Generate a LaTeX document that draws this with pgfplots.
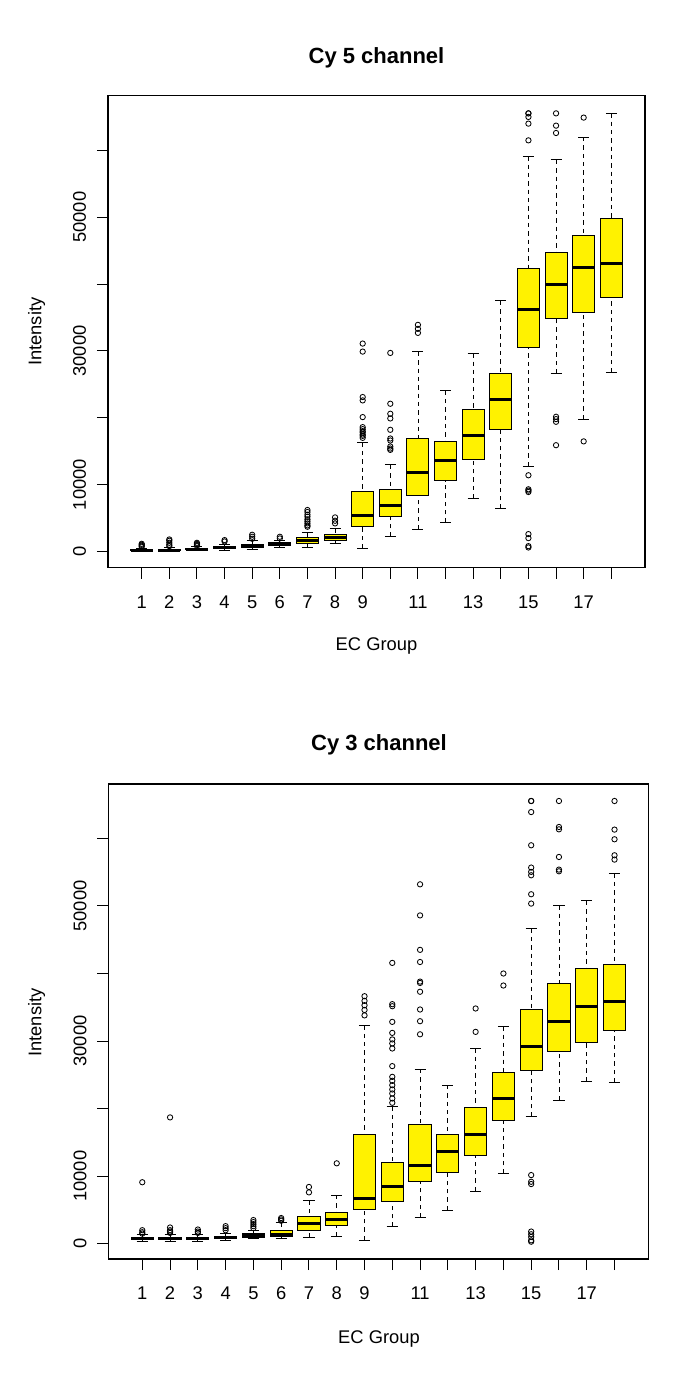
\documentclass[border=0pt]{standalone}
\usepackage{fontspec}
\setmainfont{Liberation Sans}
\usepackage{pgfplots}
\pgfplotsset{compat=1.18}
\usepgfplotslibrary{statistics}

\pgfplotsset{
  boxplot/draw direction=y,
  boxplot/draw/lower whisker/.code={%
    \draw[dash pattern=on 2.6pt off 2.4pt, line width=0.5pt, black]
      (boxplot box cs:\pgfplotsboxplotvalue{lower whisker},0.5) --
      (boxplot box cs:\pgfplotsboxplotvalue{lower quartile},0.5);
    \draw[solid, line width=0.6pt, black]
      (boxplot whisker cs:\pgfplotsboxplotvalue{lower whisker},0) --
      (boxplot whisker cs:\pgfplotsboxplotvalue{lower whisker},1);
  },
  boxplot/draw/upper whisker/.code={%
    \draw[dash pattern=on 2.6pt off 2.4pt, line width=0.5pt, black]
      (boxplot box cs:\pgfplotsboxplotvalue{upper whisker},0.5) --
      (boxplot box cs:\pgfplotsboxplotvalue{upper quartile},0.5);
    \draw[solid, line width=0.6pt, black]
      (boxplot whisker cs:\pgfplotsboxplotvalue{upper whisker},0) --
      (boxplot whisker cs:\pgfplotsboxplotvalue{upper whisker},1);
  },
  bx/.style={
    solid, draw=black, mark=o, mark size=1.6pt,
    mark options={solid, black, line width=0.5pt},
    boxplot/draw direction=y,
    boxplot/box extend=0.8,
    boxplot/whisker extend=0.4,
    boxplot/every box/.style={fill=yellow, draw=black, line width=0.6pt},
    boxplot/every median/.style={line width=1.8pt, black},
  },
  rbox/.style={
    scale only axis,
    anchor=south west,
    xmin=-0.22, xmax=19.22,
    xtick={1,...,18},
    xticklabels={1,2,3,4,5,6,7,8,9,,11,,13,,15,,17,},
    ytick={0,10000,20000,30000,40000,50000,60000},
    yticklabels={0,10000,,30000,,50000,},
    scaled y ticks=false,
    xtick pos=bottom, ytick pos=left,
    tick align=outside,
    major tick length=6.6pt,
    tick style={black, line width=0.6pt},
    axis line style={black, line width=0.7pt},
    tick label style={font=\fontsize{11}{13}\selectfont},
    /pgf/number format/assume math mode=true,
    xticklabel style={anchor=base},
    xticklabel shift=17.8pt,
    yticklabel style={rotate=90, anchor=base},
    yticklabel shift=6.6pt,
    clip=false,
  },
}

\begin{document}
\begin{tikzpicture}
\useasboundingbox (0,0) rectangle (411pt,-828pt);
\fill[white] (0,0) rectangle (411pt,-828pt);

% ---------------- Cy 5 ----------------
\begin{axis}[rbox, at={(64.8pt,-340.6pt)}, width=322.2pt, height=283.2pt,
  ymin=-2423, ymax=68183]
\addplot[bx, boxplot prepared={draw position=1, lower whisker=60, lower quartile=120, median=180, upper quartile=300, upper whisker=520}] table[row sep=\\, y index=0] {v\\ 700\\ 850\\ 1000\\ 1150\\};
\addplot[bx, boxplot prepared={draw position=2, lower whisker=50, lower quartile=110, median=170, upper quartile=290, upper whisker=560}] table[row sep=\\, y index=0] {v\\ 800\\ 1000\\ 1300\\ 1600\\ 1800\\};
\addplot[bx, boxplot prepared={draw position=3, lower whisker=120, lower quartile=230, median=320, upper quartile=450, upper whisker=700}] table[row sep=\\, y index=0] {v\\ 850\\ 1000\\ 1150\\ 1300\\};
\addplot[bx, boxplot prepared={draw position=4, lower whisker=200, lower quartile=420, median=560, upper quartile=720, upper whisker=1100}] table[row sep=\\, y index=0] {v\\ 1500\\ 1700\\};
\addplot[bx, boxplot prepared={draw position=5, lower whisker=350, lower quartile=540, median=760, upper quartile=990, upper whisker=1600}] table[row sep=\\, y index=0] {v\\ 1900\\ 2200\\ 2500\\};
\addplot[bx, boxplot prepared={draw position=6, lower whisker=550, lower quartile=840, median=1080, upper quartile=1320, upper whisker=1700}] table[row sep=\\, y index=0] {v\\ 1950\\ 2200\\};
\addplot[bx, boxplot prepared={draw position=7, lower whisker=570, lower quartile=1230, median=1620, upper quartile=2060, upper whisker=2810}] table[row sep=\\, y index=0] {v\\ 3700\\ 3900\\ 4200\\ 4500\\ 4800\\ 5200\\ 5500\\ 5900\\ 6200\\};
\addplot[bx, boxplot prepared={draw position=8, lower whisker=1120, lower quartile=1620, median=2120, upper quartile=2570, upper whisker=3370}] table[row sep=\\, y index=0] {v\\ 4200\\ 4600\\ 5100\\};
\addplot[bx, boxplot prepared={draw position=9, lower whisker=480, lower quartile=3710, median=5310, upper quartile=8900, upper whisker=16280}] table[row sep=\\, y index=0] {v\\ 17000\\ 17300\\ 17500\\ 17800\\ 18000\\ 18300\\ 18600\\ 20100\\ 22600\\ 23100\\ 29900\\ 31100\\};
\addplot[bx, boxplot prepared={draw position=10, lower whisker=2200, lower quartile=5300, median=6900, upper quartile=9200, upper whisker=12950}] table[row sep=\\, y index=0] {v\\ 15200\\ 15400\\ 15700\\ 16600\\ 16900\\ 18200\\ 19900\\ 20600\\ 22100\\ 29700\\};
\addplot[bx, boxplot prepared={draw position=11, lower whisker=3320, lower quartile=8300, median=11850, upper quartile=16930, upper whisker=29840}] table[row sep=\\, y index=0] {v\\ 32700\\ 33300\\ 33900\\};
\addplot[bx, boxplot prepared={draw position=12, lower whisker=4310, lower quartile=10590, median=13580, upper quartile=16420, upper whisker=24060}] coordinates {};
\addplot[bx, boxplot prepared={draw position=13, lower whisker=7960, lower quartile=13730, median=17320, upper quartile=21170, upper whisker=29650}] coordinates {};
\addplot[bx, boxplot prepared={draw position=14, lower whisker=6400, lower quartile=18180, median=22770, upper quartile=26660, upper whisker=37470}] coordinates {};
\addplot[bx, boxplot prepared={draw position=15, lower whisker=12770, lower quartile=30540, median=36230, upper quartile=42370, upper whisker=59130}] table[row sep=\\, y index=0] {v\\ 600\\ 800\\ 2000\\ 2600\\ 8900\\ 9100\\ 9300\\ 11400\\ 61500\\ 64000\\ 65000\\ 65535\\ 65535\\};
\addplot[bx, boxplot prepared={draw position=16, lower whisker=26650, lower quartile=34920, median=39870, upper quartile=44700, upper whisker=58580}] table[row sep=\\, y index=0] {v\\ 15900\\ 19400\\ 19800\\ 20150\\ 62600\\ 63700\\ 65535\\};
\addplot[bx, boxplot prepared={draw position=17, lower whisker=19800, lower quartile=35820, median=42510, upper quartile=47200, upper whisker=61980}] table[row sep=\\, y index=0] {v\\ 16470\\ 64900\\};
\addplot[bx, boxplot prepared={draw position=18, lower whisker=26800, lower quartile=37970, median=43110, upper quartile=49850, upper whisker=65535}] coordinates {};
\end{axis}

% ---------------- Cy 3 ----------------
\begin{axis}[rbox, at={(65.04pt,-755.4pt)}, width=324pt, height=285pt,
  ymin=-2265, ymax=68050]
\addplot[bx, boxplot prepared={draw position=1, lower whisker=350, lower quartile=600, median=750, upper quartile=900, upper whisker=1300}] table[row sep=\\, y index=0] {v\\ 1500\\ 1700\\ 2000\\ 9100\\};
\addplot[bx, boxplot prepared={draw position=2, lower whisker=350, lower quartile=580, median=750, upper quartile=900, upper whisker=1350}] table[row sep=\\, y index=0] {v\\ 1600\\ 1800\\ 2000\\ 2400\\ 18700\\};
\addplot[bx, boxplot prepared={draw position=3, lower whisker=380, lower quartile=600, median=760, upper quartile=920, upper whisker=1400}] table[row sep=\\, y index=0] {v\\ 1600\\ 1800\\ 2100\\};
\addplot[bx, boxplot prepared={draw position=4, lower whisker=450, lower quartile=700, median=880, upper quartile=1050, upper whisker=1500}] table[row sep=\\, y index=0] {v\\ 2000\\ 2300\\ 2600\\};
\addplot[bx, boxplot prepared={draw position=5, lower whisker=700, lower quartile=900, median=1150, upper quartile=1500, upper whisker=2000}] table[row sep=\\, y index=0] {v\\ 2300\\ 2600\\ 2900\\ 3200\\ 3500\\};
\addplot[bx, boxplot prepared={draw position=6, lower whisker=800, lower quartile=1140, median=1430, upper quartile=1920, upper whisker=3100}] table[row sep=\\, y index=0] {v\\ 3400\\ 3600\\ 3800\\};
\addplot[bx, boxplot prepared={draw position=7, lower whisker=950, lower quartile=1920, median=3020, upper quartile=4100, upper whisker=6360}] table[row sep=\\, y index=0] {v\\ 7600\\ 8400\\};
\addplot[bx, boxplot prepared={draw position=8, lower whisker=1140, lower quartile=2770, median=3610, upper quartile=4590, upper whisker=7200}] table[row sep=\\, y index=0] {v\\ 11900\\};
\addplot[bx, boxplot prepared={draw position=9, lower whisker=550, lower quartile=5090, median=6720, upper quartile=16180, upper whisker=32310}] table[row sep=\\, y index=0] {v\\ 33800\\ 34600\\ 35300\\ 35950\\ 36640\\};
\addplot[bx, boxplot prepared={draw position=10, lower whisker=2520, lower quartile=6320, median=8430, upper quartile=11980, upper whisker=20270}] table[row sep=\\, y index=0] {v\\ 20860\\ 21500\\ 22240\\ 22830\\ 23470\\ 24110\\ 24700\\ 26290\\ 28900\\ 29650\\ 30240\\ 31210\\ 32840\\ 35160\\ 35460\\ 41570\\};
\addplot[bx, boxplot prepared={draw position=11, lower whisker=3900, lower quartile=9170, median=11640, upper quartile=17600, upper whisker=25840}] table[row sep=\\, y index=0] {v\\ 31000\\ 32940\\ 34670\\ 37300\\ 38600\\ 38800\\ 41700\\ 43500\\ 48600\\ 53200\\};
\addplot[bx, boxplot prepared={draw position=12, lower whisker=4990, lower quartile=10560, median=13710, upper quartile=16180, upper whisker=23480}] coordinates {};
\addplot[bx, boxplot prepared={draw position=13, lower whisker=7800, lower quartile=13020, median=16180, upper quartile=20180, upper whisker=28900}] table[row sep=\\, y index=0] {v\\ 31360\\ 34820\\};
\addplot[bx, boxplot prepared={draw position=14, lower whisker=10360, lower quartile=18250, median=21450, upper quartile=25300, upper whisker=32200}] table[row sep=\\, y index=0] {v\\ 38220\\ 40000\\};
\addplot[bx, boxplot prepared={draw position=15, lower whisker=18790, lower quartile=25700, median=29250, upper quartile=34680, upper whisker=46660}] table[row sep=\\, y index=0] {v\\ 300\\ 500\\ 1000\\ 1400\\ 1800\\ 8830\\ 9170\\ 10160\\ 50350\\ 51730\\ 54540\\ 55040\\ 55680\\ 58980\\ 63900\\ 65535\\ 65535\\};
\addplot[bx, boxplot prepared={draw position=16, lower whisker=21260, lower quartile=28510, median=32940, upper quartile=38460, upper whisker=50100}] table[row sep=\\, y index=0] {v\\ 55130\\ 55380\\ 57250\\ 61340\\ 61690\\ 65535\\};
\addplot[bx, boxplot prepared={draw position=17, lower whisker=24070, lower quartile=29730, median=35160, upper quartile=40780, upper whisker=50740}] coordinates {};
\addplot[bx, boxplot prepared={draw position=18, lower whisker=23880, lower quartile=31610, median=35900, upper quartile=41330, upper whisker=54790}] table[row sep=\\, y index=0] {v\\ 56860\\ 57500\\ 59870\\ 61300\\ 65535\\};
\end{axis}

% ---------------- titles and axis labels ----------------
\node[anchor=base, font=\bfseries\fontsize{13.2}{15}\selectfont] at (225.9pt,-37.8pt) {Cy 5 channel};
\node[anchor=base, font=\fontsize{11}{13}\selectfont] at (225.9pt,-390.4pt) {EC Group};
\node[anchor=base, rotate=90, font=\fontsize{11}{13}\selectfont] at (24.9pt,-199pt) {Intensity};

\node[anchor=base, font=\bfseries\fontsize{13.2}{15}\selectfont] at (227.4pt,-450pt) {Cy 3 channel};
\node[anchor=base, font=\fontsize{11}{13}\selectfont] at (227.4pt,-805.8pt) {EC Group};
\node[anchor=base, rotate=90, font=\fontsize{11}{13}\selectfont] at (24.9pt,-613.5pt) {Intensity};
\end{tikzpicture}
\end{document}
